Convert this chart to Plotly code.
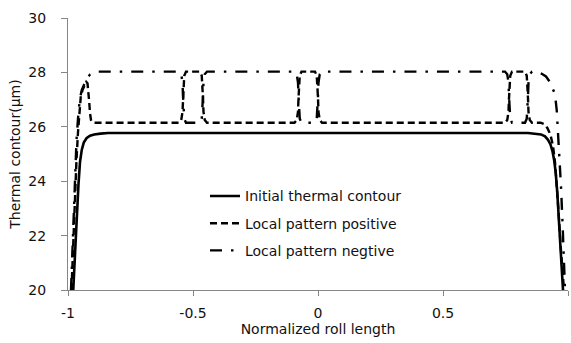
import plotly.graph_objects as go

# ---- data ----
x_tick_vals = [-1, -0.5, 0, 0.5, 1]
x_tick_text = ["-1", "-0.5", "0", "0.5", "1"]
y_tick_vals = [20, 22, 24, 26, 28, 30]

init_x = [-0.979, -0.974, -0.968, -0.963, -0.958, -0.952, -0.945, -0.937, -0.926, -0.912, -0.895, -0.870, -0.840,
          0.840, 0.870, 0.892, 0.908, 0.920, 0.930, 0.938, 0.945, 0.951, 0.957, 0.962, 0.968, 0.974, 0.980]
init_y = [20.0, 21.0, 22.0, 23.0, 23.9, 24.7, 25.15, 25.42, 25.58, 25.67, 25.72, 25.75, 25.77,
          25.77, 25.75, 25.72, 25.65, 25.52, 25.35, 25.1, 24.75, 24.3, 23.6, 22.9, 21.9, 21.0, 20.0]

pos_x = [-0.986, -0.979, -0.972, -0.966, -0.960, -0.955, -0.949, -0.942, -0.934, -0.927, -0.922, -0.918, -0.915, -0.912, -0.908, -0.903, -0.895,
         -0.556, -0.547, -0.542, -0.540, -0.538, -0.535, -0.528, -0.472, -0.465, -0.462, -0.460, -0.458, -0.453, -0.444,
         -0.094, -0.085, -0.080, -0.078, -0.076, -0.073, -0.066, -0.012, -0.005, -0.002, 0.000, 0.002, 0.007, 0.016,
         0.748, 0.757, 0.762, 0.764, 0.766, 0.769, 0.776, 0.828, 0.835, 0.838, 0.840, 0.842, 0.847, 0.856,
         0.890, 0.905, 0.918, 0.930, 0.940, 0.948, 0.955, 0.962, 0.970, 0.978, 0.984]
pos_y = [20.0, 21.8, 23.5, 24.8, 25.8, 26.6, 27.1, 27.35, 27.55, 27.65, 27.6, 27.3, 26.9, 26.5, 26.25, 26.17, 26.15,
         26.15, 26.25, 26.55, 27.05, 27.55, 27.88, 28.03, 28.03, 27.88, 27.55, 27.05, 26.55, 26.25, 26.15,
         26.15, 26.25, 26.55, 27.05, 27.55, 27.88, 28.03, 28.03, 27.88, 27.55, 27.05, 26.55, 26.25, 26.15,
         26.15, 26.25, 26.55, 27.05, 27.55, 27.88, 28.03, 28.03, 27.88, 27.55, 27.05, 26.55, 26.25, 26.15,
         26.15, 26.1, 25.95, 25.7, 25.3, 24.7, 23.9, 22.9, 21.7, 20.6, 20.0]

neg_x = [-0.988, -0.980, -0.973, -0.966, -0.960, -0.953, -0.945, -0.935, -0.925, -0.912, -0.900, -0.880,
         -0.556, -0.547, -0.542, -0.540, -0.538, -0.535, -0.528, -0.472, -0.465, -0.462, -0.460, -0.458, -0.453, -0.444,
         -0.094, -0.085, -0.080, -0.078, -0.076, -0.073, -0.066, -0.012, -0.005, -0.002, 0.000, 0.002, 0.007, 0.016,
         0.748, 0.757, 0.762, 0.764, 0.766, 0.769, 0.776, 0.828, 0.835, 0.838, 0.840, 0.842, 0.847, 0.856,
         0.870, 0.895, 0.912, 0.928, 0.940, 0.948, 0.955, 0.960, 0.966, 0.972, 0.978, 0.983, 0.988]
neg_y = [20.0, 22.0, 24.0, 25.5, 26.3, 27.0, 27.35, 27.6, 27.78, 27.92, 27.99, 28.03,
         28.03, 27.93, 27.63, 27.13, 26.63, 26.30, 26.15, 26.15, 26.30, 26.63, 27.13, 27.63, 27.93, 28.03,
         28.03, 27.93, 27.63, 27.13, 26.63, 26.30, 26.15, 26.15, 26.30, 26.63, 27.13, 27.63, 27.93, 28.03,
         28.03, 27.93, 27.63, 27.13, 26.63, 26.30, 26.15, 26.15, 26.30, 26.63, 27.13, 27.63, 27.93, 28.03,
         28.03, 27.95, 27.85, 27.64, 27.4, 27.2, 26.6, 25.9, 24.8, 23.8, 22.5, 21.2, 20.0]

names = ["Initial thermal contour", "Local pattern positive", "Local pattern negtive"]

FONT = "DejaVu Sans, Verdana, sans-serif"
AXIS_COLOR = "#868686"
TEXT_COLOR = "#111111"

fig = go.Figure()
fig.add_trace(go.Scatter(x=init_x, y=init_y, mode="lines", name=names[0], legendgroup="a",
                         line=dict(color="black", width=2.6, dash="solid")))
fig.add_trace(go.Scatter(x=pos_x, y=pos_y, mode="lines", name=names[1], legendgroup="b",
                         line=dict(color="black", width=2.4, dash="7px,4px")))
fig.add_trace(go.Scatter(x=neg_x, y=neg_y, mode="lines", name=names[2], legendgroup="c",
                         line=dict(color="black", width=2.4, dash="12px,9px,2.5px,9px")))

fig.update_layout(
    width=571, height=343,
    margin=dict(l=68, r=3, t=18, b=53),
    paper_bgcolor="white", plot_bgcolor="white",
    font=dict(family=FONT, size=14, color=TEXT_COLOR),
    showlegend=True,
    legend=dict(x=0.274, y=0.403, xanchor="left", yanchor="top",
                bgcolor="rgba(0,0,0,0)", font=dict(family=FONT, size=14, color=TEXT_COLOR),
                traceorder="grouped", tracegroupgap=6),
)
fig.update_xaxes(range=[-1, 1], tickvals=x_tick_vals, ticktext=x_tick_text,
                 showline=True, linecolor=AXIS_COLOR, linewidth=1,
                 ticks="outside", ticklen=5, tickcolor=AXIS_COLOR,
                 ticklabelstandoff=5,
                 showgrid=False, zeroline=False,
                 title=dict(text="Normalized roll length", standoff=4,
                            font=dict(family=FONT, size=14)))
fig.update_yaxes(range=[20, 30], tickvals=y_tick_vals,
                 showline=True, linecolor=AXIS_COLOR, linewidth=1,
                 ticks="outside", ticklen=6, tickcolor=AXIS_COLOR,
                 ticklabelstandoff=12,
                 showgrid=False, zeroline=False,
                 title=dict(text="Thermal contour(μm)", standoff=4,
                            font=dict(family=FONT, size=14)))

fig.write_html("out.html")
